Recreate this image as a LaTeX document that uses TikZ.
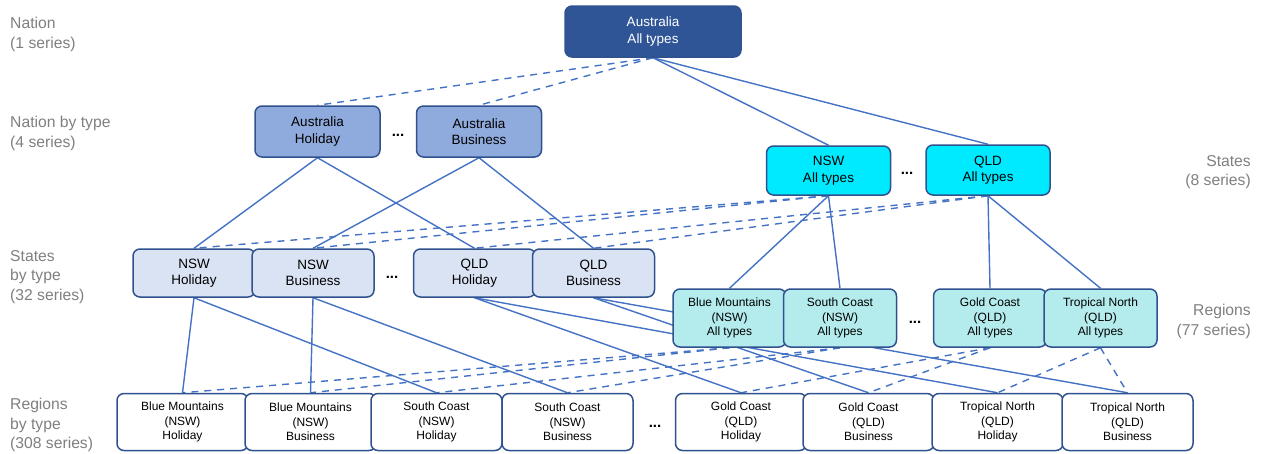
\documentclass[tikz,border=0pt]{standalone}
\usepackage{fontspec}
\setmainfont{Liberation Sans}
\usepackage{tikz}
\usetikzlibrary{backgrounds}

\definecolor{boxline}{HTML}{2F528F}
\definecolor{tieblue}{HTML}{4472C4}
\definecolor{tiergray}{HTML}{7F7F7F}
\definecolor{natfill}{HTML}{2F5597}
\definecolor{ntypefill}{HTML}{8FAADC}
\definecolor{statefill}{HTML}{00EAFF}
\definecolor{stypefill}{HTML}{DAE3F3}
\definecolor{regfill}{HTML}{B4ECEE}

\begin{document}
\begin{tikzpicture}[x=1pt, y=-1pt, line cap=round,
    box/.style={draw=boxline, line width=1.5pt, rounded corners=7pt, align=center, inner sep=0pt},
    bigbox/.style={box, font=\fontsize{13.5}{16.5}\selectfont},
    smallbox/.style={box, font=\fontsize{12}{14.5}\selectfont},
    tier/.style={text=tiergray, inner sep=0pt, font=\fontsize{15.7}{19.5}\selectfont},
    gap/.style={inner sep=0pt, font=\fontsize{15}{15}\selectfont\bfseries},
    sumln/.style={draw=tieblue, line width=1.4pt},
    sumdash/.style={sumln, dash pattern=on 7pt off 6pt}]
    \useasboundingbox (0,0) rectangle (1261,453);

    % tier names
    \node[tier, anchor=north west, align=left] (lvlNat) at (10,17) {Nation\\(1 series)};
    \node[tier, anchor=north west, align=left] (lvlNatTy) at (10,116) {Nation by type\\(4 series)};
    \node[tier, anchor=north west, align=left] (lvlStTy) at (10,250) {States\\by type\\(32 series)};
    \node[tier, anchor=north west, align=left] (lvlRegTy) at (10,398) {Regions\\by type\\(308 series)};
    \node[tier, anchor=north east, align=right] (lvlSt) at (1251,155) {States\\(8 series)};
    \node[tier, anchor=north east, align=right] (lvlReg) at (1251,304) {Regions\\(77 series)};

    % top and nation by type
    \node[bigbox, fill=natfill, text=white, minimum width=176pt, minimum height=51pt] (aus) at (653,31.5) {Australia\\All types};
    \node[bigbox, fill=ntypefill, minimum width=125pt, minimum height=51pt] (ausHol) at (317.5,131.5) {Australia\\Holiday};
    \node[bigbox, fill=ntypefill, minimum width=125pt, minimum height=51pt] (ausBus) at (479,131.5) {Australia\\Business};

    % states
    \node[bigbox, fill=statefill, minimum width=124pt, minimum height=49pt] (nsw) at (828.5,170.5) {NSW\\All types};
    \node[bigbox, fill=statefill, minimum width=124pt, minimum height=50pt] (qld) at (988,170) {QLD\\All types};

    % states by type
    \foreach \n/\x/\st/\ty in {nswHol/194/NSW/Holiday, nswBus/313/NSW/Business,
                             qldHol/474.5/QLD/Holiday, qldBus/593.5/QLD/Business}
      \node[bigbox, fill=stypefill, minimum width=122pt, minimum height=48pt] (\n) at (\x,273) {\st\\\ty};

    % regions
    \foreach \n/\x/\reg/\st in {bm/729.5/Blue Mountains/NSW, sc/840/South Coast/NSW,
                              gc/990/Gold Coast/QLD, tn/1100.5/Tropical North/QLD}
      \node[smallbox, fill=regfill, minimum width=113pt, minimum height=58pt] (\n) at (\x,318) {\reg\\(\st)\\All types};

    % regions by type
    \foreach \n/\x/\reg/\st/\ty in {bmHol/182.5/Blue Mountains/NSW/Holiday, bmBus/310.5/Blue Mountains/NSW/Business,
                                  scHol/436.5/South Coast/NSW/Holiday, scBus/567.5/South Coast/NSW/Business,
                                  gcHol/741/Gold Coast/QLD/Holiday, gcBus/868.5/Gold Coast/QLD/Business,
                                  tnHol/997.5/Tropical North/QLD/Holiday, tnBus/1127.5/Tropical North/QLD/Business}
      \node[smallbox, fill=white, minimum width=131pt, minimum height=57pt] (\n) at (\x,422) {\reg\\(\st)\\\ty};

    % ellipses
    \node[gap] (dotsA) at (398,135) {...};
    \node[gap] (dotsB) at (907,173) {...};
    \node[gap] (dotsC) at (392,277) {...};
    \node[gap] (dotsD) at (915,322) {...};
    \node[gap] (dotsE) at (655,426) {...};

    \begin{scope}[on background layer]
      \foreach \a/\b in {aus/nsw, aus/qld, ausHol/nswHol, ausHol/qldHol, ausBus/nswBus, ausBus/qldBus,
                         nsw/bm, nsw/sc, qld/gc, qld/tn,
                         nswHol/bmHol, nswHol/scHol, nswBus/bmBus, nswBus/scBus,
                         qldHol/gcHol, qldHol/tnHol, qldBus/gcBus, qldBus/tnBus}
        \draw[sumln] (\a.south) -- (\b.north);
      \foreach \a/\b in {aus/ausHol, aus/ausBus, nsw/nswHol, nsw/nswBus, qld/qldHol, qld/qldBus,
                         bm/bmHol, bm/bmBus, sc/scHol, sc/scBus, gc/gcHol, gc/gcBus, tn/tnHol, tn/tnBus}
        \draw[sumdash] (\a.south) -- (\b.north);
    \end{scope}
  \end{tikzpicture}
\end{document}
